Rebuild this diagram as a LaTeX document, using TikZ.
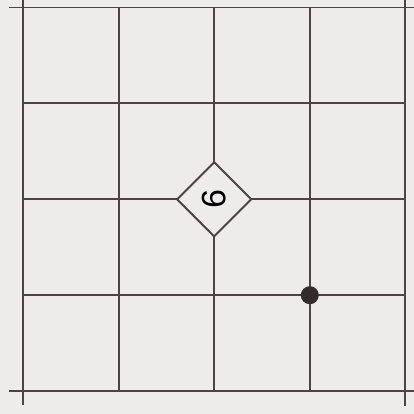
\documentclass[tikz,border=0pt]{standalone}
\usepackage{fontspec}
\setmainfont{Liberation Sans}
\usetikzlibrary{shapes.geometric}
\definecolor{paper}{RGB}{238,236,234}
\definecolor{ink}{RGB}{74,68,68}
\definecolor{stonecol}{RGB}{52,44,44}
\newcommand\gx[1]{23+95.6*#1}
\newcommand\gy[1]{7.5+95.9*#1}
\tikzset{
  gridline/.style={ink, line width=1.4pt},
  clue/.style={diamond, draw=ink, fill=paper, line width=1.4pt, minimum size=75*0.025cm, inner sep=0pt},
  stone/.style={circle, fill=stonecol, minimum size=18*0.025cm, inner sep=0pt}
}
\begin{document}
\begin{tikzpicture}[x=0.025cm, y=-0.025cm]
\fill[paper] (0,0) rectangle (414,414);
\useasboundingbox (0,0) rectangle (414,414);
% outer lines run past the frame
\draw[gridline] (9,{\gy{0}})--(414,{\gy{0}});
\draw[gridline] (9,{\gy{4}})--(414,{\gy{4}});
\draw[gridline] ({\gx{0}},0)--({\gx{0}},405);
\draw[gridline] ({\gx{4}},0)--({\gx{4}},406);
\foreach\k in{1,2,3} \draw[gridline] ({\gx{0}},{\gy{\k}})--({\gx{4}},{\gy{\k}});
\foreach\k in{1,2,3} \draw[gridline] ({\gx{\k}},{\gy{0}})--({\gx{\k}},{\gy{4}});
\node[clue] (nine) at ({\gx{2}},{\gy{2}}) {\rotatebox{-90}{\fontsize{24}{24}\selectfont 9}};
\node[stone] (dot) at ({\gx{3}},{\gy{3}}) {};
\end{tikzpicture}
\end{document}
